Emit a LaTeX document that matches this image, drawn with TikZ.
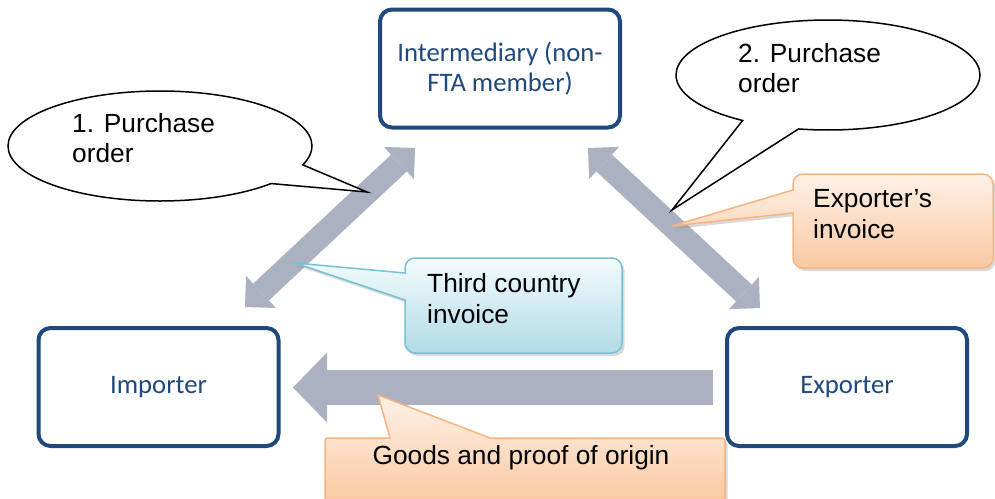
\documentclass[tikz,border=0pt]{standalone}
\usepackage{fontspec}
\newfontfamily\calfont{Carlito}
\newfontfamily\arfont{Liberation Sans}
\usetikzlibrary{arrows.meta,shapes.callouts,shadows}
\definecolor{boxblue}{RGB}{31,73,125}
\definecolor{arrowgrey}{RGB}{171,177,192}
\definecolor{orTop}{RGB}{254,241,231}
\definecolor{orBot}{RGB}{250,201,162}
\definecolor{orLine}{RGB}{245,180,128}
\definecolor{blTop}{RGB}{243,251,253}
\definecolor{blBot}{RGB}{178,219,230}
\definecolor{blLine}{RGB}{118,194,212}
\begin{document}
\begin{tikzpicture}[x=1pt,y=-1pt,
  party/.style={draw=boxblue, line width=4pt, rounded corners=12pt, fill=white,
    minimum width=240pt, minimum height=118pt, inner sep=0pt, align=center,
    text=boxblue, font=\calfont\fontsize{26.7}{30}\selectfont},
  tipD/.style={},
  diagarrow/.style={draw=arrowgrey, line width=23pt,
    {Triangle[width=44pt,length=22pt,line width=0pt]}-{Triangle[width=44pt,length=22pt,line width=0pt]}},
  horarrow/.style={draw=arrowgrey, line width=35pt,
    -{Triangle[width=70pt,length=34pt,line width=0pt]}},
  speech/.style={ellipse callout, draw=black, line width=1.5pt, fill=white,
    minimum width=304pt, minimum height=110pt, inner sep=0pt, callout pointer arc=23},
  orcall/.style={draw=orLine, line width=1.5pt, top color=orTop, bottom color=orBot,
    drop shadow={shadow xshift=2.5pt, shadow yshift=-3pt, opacity=0.3}},
  blcall/.style={draw=blLine, line width=1.5pt, top color=blTop, bottom color=blBot,
    drop shadow={shadow xshift=2.5pt, shadow yshift=-3pt, opacity=0.3}},
  calltext/.style={inner sep=0pt, align=left, text=black,
    font=\arfont\fontsize{26.3}{30.5}\selectfont}
]
\useasboundingbox (0,0) rectangle (995,498);

% parties
\node[party] (inter) at (500,68.5) {Intermediary (non-\\FTA member)};
\node[party] (imp) at (158.5,387) {Importer};
\node[party] (exp) at (847,387) {Exporter};

% arrow end points
\coordinate (aInterL) at (415,148);
\coordinate (aImpT) at (245,307);
\coordinate (aInterR) at (588,148);
\coordinate (aExpT) at (760,308);
\coordinate (aExpL) at (713,387.5);
\coordinate (aImpR) at (293,387.5);

% flow arrows
\draw[diagarrow] (aImpT) -- (aInterL);
\draw[diagarrow] (aInterR) -- (aExpT);
\draw[horarrow] (aExpL) -- (aImpR);

% speech bubbles
\coordinate (tip1) at (367,192);
\coordinate (tip2) at (672,210);
\node[speech, callout absolute pointer=(tip1)] (po1) at (160,146) {};
\node[speech, callout absolute pointer=(tip2)] (po2) at (828,75) {};
\node[calltext, anchor=west] (po1t) at (72,138) {1. Purchase\\order};
\node[calltext, anchor=west] (po2t) at (738,68) {2. Purchase\\order};

% Exporter's invoice callout
\path[orcall] (672,226) -- (793,213) [rounded corners=10pt] -- (793,268) -- (993,268)
  -- (993,174) -- (793,174) [sharp corners] -- (793,190) -- cycle;
\node[calltext, anchor=west] (expinv) at (813,214) {Exporter’s\\invoice};

% Third country invoice callout
\path[blcall] (295,263) -- (405,300) [rounded corners=10pt] -- (405,353) -- (622,353)
  -- (622,258) -- (405,258) [sharp corners] -- (405,273) -- cycle;
\node[calltext, anchor=west] (tcinv) at (427,298.5) {Third country\\invoice};

% Goods and proof of origin callout
\path[orcall] (378,395) -- (490,438) [rounded corners=3pt] -- (725,438) -- (725,502)
  -- (325,502) -- (325,438) [sharp corners] -- (390,438) -- cycle;
\node[calltext] (goods) at (521,458) {Goods and proof of origin};
\end{tikzpicture}
\end{document}
